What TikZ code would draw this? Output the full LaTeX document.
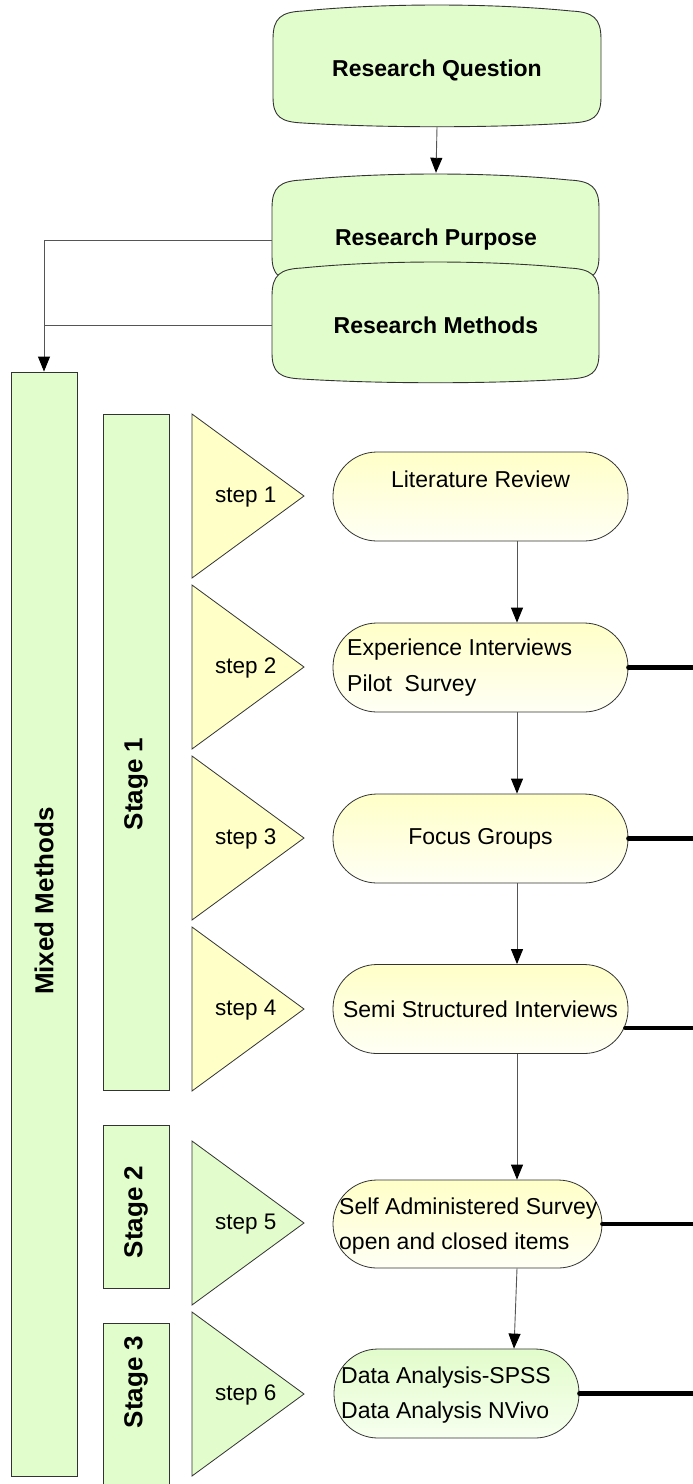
\documentclass[tikz,border=0pt]{standalone}
\usepackage{fontspec}
\setmainfont{Liberation Sans}
\usetikzlibrary{arrows.meta,calc}

\definecolor{boxgreen}{HTML}{E2FDCC}
\definecolor{triyellow}{HTML}{FFFFC8}
\definecolor{trigreen}{HTML}{E2FCCB}
\definecolor{edgeclr}{HTML}{333333}
\definecolor{connclr}{HTML}{555555}
\definecolor{padtop}{HTML}{FFFFC8}
\definecolor{padbot}{HTML}{FFFFF5}
\definecolor{gpadtop}{HTML}{E2FCCB}
\definecolor{gpadbot}{HTML}{F7FFEF}

% outline of a box whose top and bottom edges bulge slightly: left, top, right, bottom
\newcommand\bulgeoutline[4]{%
  \draw[edgeclr, line width=0.9pt, fill=boxgreen]
    (#1,{#2+35}) .. controls (#1,{#2+14}) and ({#1+8},{#2+8}) .. ({#1+30},{#2+7})
    .. controls ({#1+110},{#2-1}) and ({#3-110},{#2-1}) .. ({#3-30},{#2+7})
    .. controls ({#3-8},{#2+8}) and (#3,{#2+14}) .. (#3,{#2+35})
    -- (#3,{#4-30})
    .. controls (#3,{#4-10}) and ({#3-8},{#4-5}) .. ({#3-30},{#4-4})
    .. controls ({#3-110},{#4+1}) and ({#1+110},{#4+1}) .. ({#1+30},{#4-4})
    .. controls ({#1+8},{#4-5}) and (#1,{#4-10}) .. (#1,{#4-30}) -- cycle;}

\begin{document}
\begin{tikzpicture}[x=1pt,y=-1pt,
  rtext/.style={font=\bfseries\fontsize{23}{27}\selectfont, minimum width=328pt, inner sep=0pt},
  band/.style={draw=edgeclr, line width=0.9pt, fill=boxgreen, minimum width=66pt, inner sep=0pt},
  bandlabel/.style={rotate=90, font=\bfseries\fontsize{26}{30}\selectfont, inner sep=0pt},
  tri/.style={draw=edgeclr, line width=0.8pt, line join=miter},
  steplabel/.style={anchor=west, font=\fontsize{22.5}{27}\selectfont, inner sep=0pt},
  pad/.style={draw=edgeclr, line width=0.8pt, rounded corners=44pt, minimum height=89pt,
    inner sep=0pt, top color=padtop, bottom color=padbot,
    font=\fontsize{23}{35.5}\selectfont, align=center},
  gpad/.style={pad, top color=gpadtop, bottom color=gpadbot},
  padtext/.style={anchor=west, align=left, inner sep=0pt, font=\fontsize{23}{35.5}\selectfont},
  conn/.style={connclr, line width=0.9pt},
  flow/.style={conn, -{Triangle[length=15pt,width=12pt,color=black]}},
  link/.style={black, line width=4.5pt, line cap=round}
]
\clip (0,0) rectangle (693,1484);
\coordinate (edge) at (693,0);

% research boxes at the top
\bulgeoutline{273}{4}{601}{127}
\bulgeoutline{272}{173}{599}{286}
\bulgeoutline{272}{261}{599}{383}
\node[rtext, minimum height=114pt] (rq) at (437,70) {Research Question};
\node[rtext, minimum height=134pt] (rp) at (436,240) {Research Purpose};
\node[rtext, minimum height=120pt] (rm) at (436,325) {Research Methods};

% vertical bands
\node[band, minimum height=1104pt] (mm) at (44,924) {};
\node[bandlabel] (mmlabel) at (44,901) {Mixed Methods};
\node[band, minimum width=66pt, minimum height=676pt] (st1) at (136,752) {};
\node[bandlabel] (st1label) at (136,784) {Stage 1};
\node[band, minimum height=163pt] (st2) at (136,1206.5) {};
\node[bandlabel] (st2label) at (136,1212) {Stage 2};
\node[band, minimum height=177pt] (st3) at (136,1411.5) {};
\node[bandlabel] (st3label) at (136,1382) {Stage 3};

% step triangles
\foreach \k/\t/\c in {1/414/triyellow, 2/585/triyellow, 3/756/triyellow,
                      4/927/triyellow, 5/1141/trigreen, 6/1312/trigreen}{
  \draw[tri, fill=\c] (192,\t) -- (304,{\t+82}) -- (192,{\t+164}) -- cycle;
  \node[steplabel] (step\k) at (215,{\t+83}) {step \k};
}

% process boxes
\node[pad, minimum width=295pt] (lr) at (480.5,496.5) {Literature Review\\\mbox{}};
\node[pad, minimum width=295pt] (ei) at (480.5,667.5) {};
\node[padtext] (eitext) at (347,667.5) {Experience Interviews\\Pilot\ \ Survey};
\node[pad, minimum width=295pt] (fg) at (480.5,838.5) {Focus Groups};
\node[pad, minimum width=295pt] (semi) at (480.5,1009) {Semi Structured Interviews};
\node[pad, minimum width=269pt, minimum height=88pt] (sa) at (467.5,1224) {};
\node[padtext] (satext) at (339,1226) {Self Administered Survey\\open and closed items};
\node[gpad, minimum width=245pt] (da) at (456.5,1393.5) {};
\node[padtext] (datext) at (341,1395) {Data Analysis-SPSS\\Data Analysis NVivo};

% connectors
\draw[flow] (rq.south) -- (rp.north);
\draw[flow] (rp.west) -| (mm.north);
\draw[conn] (rm.west) -- (rm.west -| mm.north);
\draw[flow] ([xshift=36.5pt]lr.south) -- ([xshift=36.5pt]ei.north);
\draw[flow] ([xshift=36.5pt]ei.south) -- ([xshift=36.5pt]fg.north);
\draw[flow] ([xshift=36.5pt]fg.south) -- ([xshift=36.5pt]semi.north);
\draw[flow] ([xshift=36.5pt]semi.south) -- ([xshift=49.5pt]sa.north);
\draw[flow] ([xshift=49.5pt]sa.south) -- ([xshift=57.5pt]da.north);

% heavy links leaving to the right
\coordinate (semiout) at ($(semi.east)+(-3,19)$);
\draw[link] (ei.east) -- (ei.east -| edge);
\draw[link] (fg.east) -- (fg.east -| edge);
\draw[link] (semiout) -- (semiout -| edge);
\draw[link] (sa.east) -- (sa.east -| edge);
\draw[link] (da.east) -- (da.east -| edge);
\end{tikzpicture}
\end{document}
